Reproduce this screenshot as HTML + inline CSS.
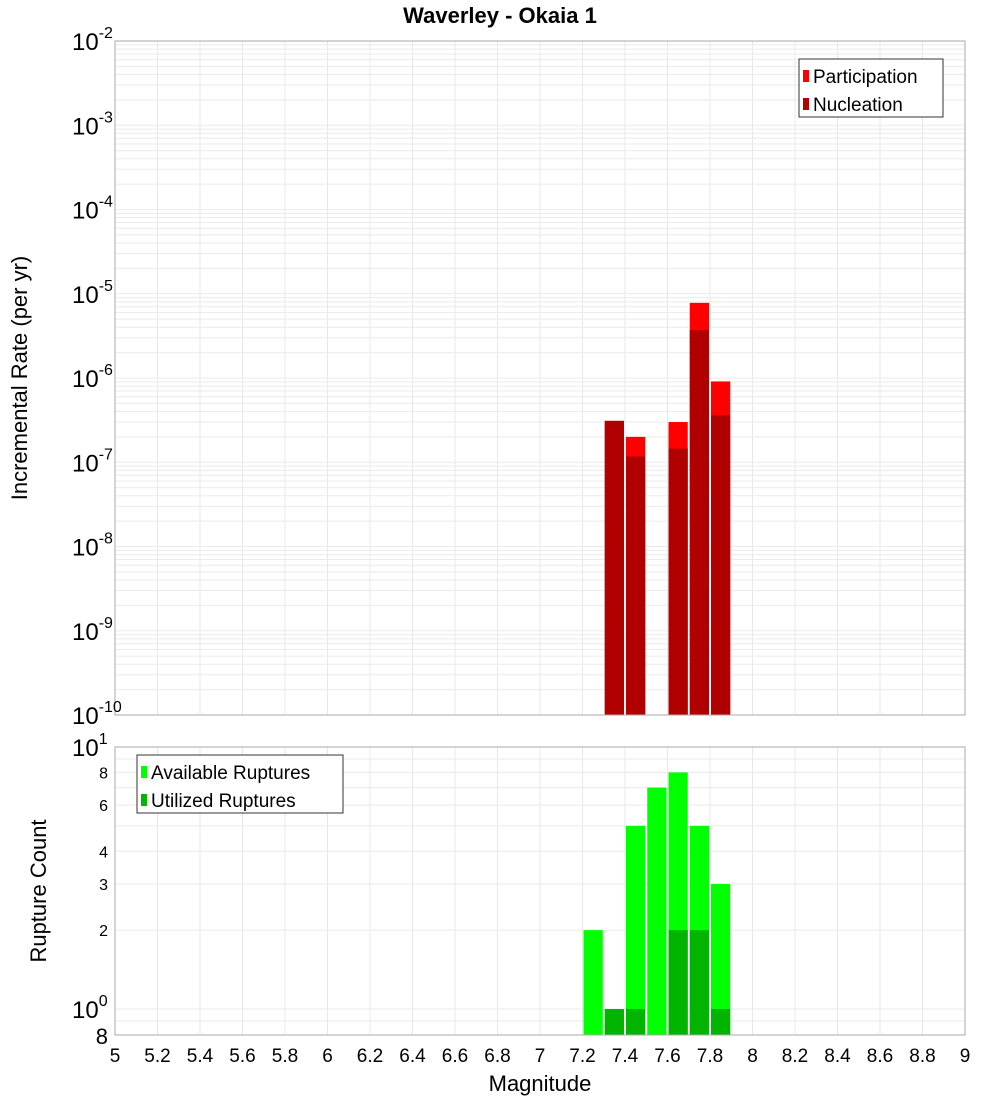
<!DOCTYPE html>
<html><head><meta charset="utf-8">
<style>body{margin:0;background:#fff}svg{display:block;font-family:"Liberation Sans","DejaVu Sans",sans-serif}</style>
</head><body>
<svg id="c" width="1000" height="1100">
<text x="500" y="23" text-anchor="middle" font-size="22" font-weight="bold">Waverley - Okaia 1</text>
<text transform="translate(27,378) rotate(-90)" text-anchor="middle" font-size="22">Incremental Rate (per yr)</text>
<text transform="translate(46,891) rotate(-90)" text-anchor="middle" font-size="22">Rupture Count</text>
<text x="540" y="1091" text-anchor="middle" font-size="22">Magnitude</text>
</svg>
<script>
const binCenters=[7.25,7.35,7.45,7.55,7.65,7.75,7.85];
const participation=[0,3.1e-7,2.0e-7,0,3.0e-7,7.8e-6,9.1e-7];
const nucleation=[0,3.1e-7,1.17e-7,0,1.45e-7,3.7e-6,3.6e-7];
const available=[2,1,5,7,8,5,3];
const utilized=[0,1,1,0,2,2,1];
const xTicks=[5,5.2,5.4,5.6,5.8,6,6.2,6.4,6.6,6.8,7,7.2,7.4,7.6,7.8,8,8.2,8.4,8.6,8.8,9];
const topExps=[-2,-3,-4,-5,-6,-7,-8,-9,-10];
const botTicks=[8,6,4,3,2];

const svg=document.getElementById('c');const NS='http://www.w3.org/2000/svg';
function mk(t,a,p){const e=document.createElementNS(NS,t);for(const k in a)e.setAttribute(k,a[k]);(p||svg).appendChild(e);return e;}
const L=115,R=965,T1=41,B1=715,T2=747,B2=1035;
const x=m=>L+(m-5)*(R-L)/4;
const yTop=v=>T1+(-2-Math.log10(v))*(B1-T1)/8;
const yBot=v=>T2+(1-Math.log10(v))*262;

// grids
const g=mk('g',{});


for(const t of xTicks){mk('line',{x1:x(t),x2:x(t),y1:T1,y2:B1,stroke:'#e8e8e8'},g);mk('line',{x1:x(t),x2:x(t),y1:T2,y2:B2,stroke:'#e8e8e8'},g);}
for(let e=-10;e<-2;e++)for(let k=1;k<10;k++){const y=yTop(k*Math.pow(10,e));mk('line',{x1:L,x2:R,y1:y,y2:y,stroke:'#ebebeb'},g);}
for(const v of [0.9,1,2,3,4,5,6,7,8,9]){const y=yBot(v);mk('line',{x1:L,x2:R,y1:y,y2:y,stroke:'#ebebeb'},g);}

// bars
const w=(R-L)/40;
binCenters.forEach((m,i)=>{
 if(participation[i]>0){const r=mk('rect',{x:x(m)-w/2+1,y:yTop(participation[i]),width:w-2,height:B1-yTop(participation[i]),fill:'#ff0000'});
 
 }
 if(nucleation[i]>0){const r=mk('rect',{x:x(m)-w/2+1,y:yTop(nucleation[i]),width:w-2,height:B1-yTop(nucleation[i]),fill:'#b00000'});
 
 }
 if(available[i]>0){const r=mk('rect',{x:x(m)-w/2+1,y:yBot(available[i]),width:w-2,height:B2-yBot(available[i]),fill:'#00ff00'});
 
 }
 if(utilized[i]>0){const r=mk('rect',{x:x(m)-w/2+1,y:yBot(utilized[i]),width:w-2,height:B2-yBot(utilized[i]),fill:'#00b400'});
 
 }
});

// frames
mk('rect',{x:L,y:T1,width:R-L,height:B1-T1,fill:'none',stroke:'#aaa'});
mk('rect',{x:L,y:T2,width:R-L,height:B2-T2,fill:'none',stroke:'#aaa'});

// top y ticks
for(const e of topExps){const y=yTop(Math.pow(10,e));const t=mk('text',{x:72,y:y+9,'font-size':24});
 
 
 t.textContent='10';const s=mk('tspan',{dy:-12,'font-size':16},t);s.textContent=String(e);}
// bottom y ticks
[[10,'1'],[1,'0']].forEach(([v,ex])=>{const y=yBot(v);const t=mk('text',{x:72,y:y+9,'font-size':24});
 
 
 t.textContent='10';const s=mk('tspan',{dy:-12,'font-size':16},t);s.textContent=ex;});
for(const v of botTicks){const t=mk('text',{x:108,y:yBot(v)+6,'font-size':16,'text-anchor':'end'});
 
 
 t.textContent=v;}
{const t=mk('text',{x:108,y:B2+9,'font-size':22,'text-anchor':'end'});
 
 
 t.textContent='8';}
for(const v of xTicks){const t=mk('text',{x:x(v),y:1062,'font-size':19,'text-anchor':'middle'});
 
 
 t.textContent=String(v);}

// legends
function legend(x0,y0,w0,items,name){const gg=mk('g',{});
 
 
 mk('rect',{x:x0,y:y0,width:w0,height:58,fill:'#fff',stroke:'#333'},gg);
 items.forEach(([c,lab],i)=>{mk('rect',{x:x0+4,y:y0+11+i*28,width:6,height:12,fill:c},gg);const t=mk('text',{x:x0+14,y:y0+24+i*28,'font-size':19},gg);t.textContent=lab;});}
legend(799,59,144,[['#ff0000','Participation'],['#b00000','Nucleation']],'top-legend');
legend(137,755,206,[['#00ff00','Available Ruptures'],['#00b400','Utilized Ruptures']],'bottom-legend');
</script>
</body></html>
